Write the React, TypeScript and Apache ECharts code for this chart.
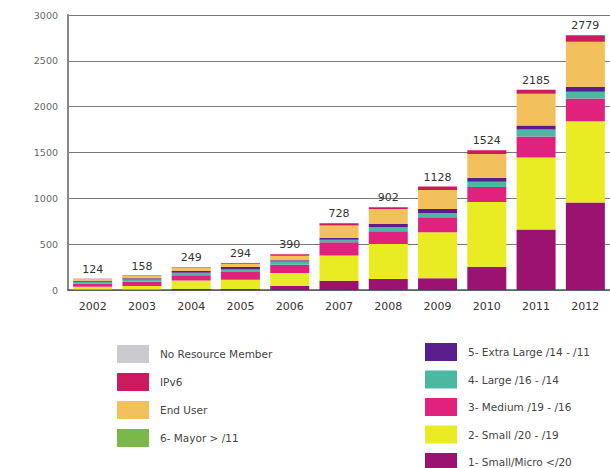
import React, { useEffect, useRef } from "react";
import * as echarts from "echarts";

const years = ["2002", "2003", "2004", "2005", "2006", "2007", "2008", "2009", "2010", "2011", "2012"];
const totals = [124, 158, 249, 294, 390, 728, 902, 1128, 1524, 2185, 2779];
const smallMicro = [5, 5, 10, 12, 45, 100, 120, 128, 255, 660, 955];
const small = [30, 40, 95, 100, 140, 276, 383, 502, 705, 785, 885];
const medium = [35, 45, 55, 85, 90, 145, 137, 163, 165, 230, 250];
const large = [20, 25, 28, 28, 35, 26, 44, 48, 55, 75, 73];
const extraLarge = [10, 12, 22, 25, 15, 22, 37, 44, 45, 45, 55];
const mayor = [0, 0, 0, 0, 0, 0, 0, 0, 0, 0, 0];
const endUser = [20, 26, 32, 36, 50, 134, 163, 207, 260, 345, 490];
const ipv6 = [4, 5, 7, 8, 15, 25, 18, 36, 39, 45, 71];
const noResource = [0, 0, 0, 0, 0, 0, 0, 0, 0, 0, 0];
const yTicks = [0, 500, 1000, 1500, 2000, 2500, 3000];

const COLORS = {
  micro: "#9c1270",
  small: "#e9ec22",
  medium: "#e0227c",
  large: "#4cb8a2",
  xl: "#5a1e8c",
  mayor: "#7ab84c",
  endUser: "#f2c15c",
  ipv6: "#cc1a5e",
  noRes: "#cbcbcf",
};

export default function App() {
  const ref = useRef<HTMLDivElement>(null);
  useEffect(() => {
    if (!ref.current) return;
    const chart = echarts.init(ref.current, null, { renderer: "svg" });
    const mk = (name: string, data: number[], color: string, extra: any = {}) => ({
      name,
      type: "bar",
      stack: "total",
      data,
      barWidth: 39,
      itemStyle: { color },
      emphasis: { disabled: true },
      ...extra,
    });
    const legendText = { color: "#444", fontSize: 10.5, fontFamily: "DejaVu Sans", padding: [0, 0, 0, 6] };
    chart.setOption({
      animation: false,
      grid: { left: 68, top: 15, width: 550, bottom: 178, containLabel: false },
      xAxis: {
        type: "category",
        data: years,
        axisLine: { lineStyle: { color: "#555", width: 1.5 } },
        axisTick: { show: false },
        axisLabel: { color: "#333", fontSize: 11, fontFamily: "DejaVu Sans", margin: 11 },
      },
      yAxis: {
        type: "value",
        min: yTicks[0],
        max: yTicks[yTicks.length - 1],
        interval: 500,
        axisLine: { show: true, lineStyle: { color: "#888", width: 2 } },
        axisTick: { show: false },
        axisLabel: {
          color: "#666",
          fontSize: 9.5,
          fontFamily: "DejaVu Sans",
          margin: 10,
          formatter: (v: number) => String(v),
        },
        splitLine: { lineStyle: { color: "#777", width: 1 } },
      },
      legend: [
        {
          orient: "vertical",
          left: 112,
          top: 340,
          height: 200,
          itemWidth: 32,
          itemHeight: 18,
          itemGap: 10,
          icon: "rect",
          textStyle: legendText,
          data: ["No Resource Member", "IPv6", "End User", "6- Mayor > /11"],
        },
        {
          orient: "vertical",
          left: 420,
          top: 338,
          height: 200,
          itemWidth: 32,
          itemHeight: 18,
          itemGap: 9.5,
          icon: "rect",
          textStyle: legendText,
          data: ["5- Extra Large /14 - /11", "4- Large /16 - /14", "3- Medium /19 - /16", "2- Small /20 - /19", "1- Small/Micro </20"],
        },
      ],
      series: [
        mk("1- Small/Micro </20", smallMicro, COLORS.micro),
        mk("2- Small /20 - /19", small, COLORS.small),
        mk("3- Medium /19 - /16", medium, COLORS.medium),
        mk("4- Large /16 - /14", large, COLORS.large),
        mk("5- Extra Large /14 - /11", extraLarge, COLORS.xl),
        mk("6- Mayor > /11", mayor, COLORS.mayor),
        mk("End User", endUser, COLORS.endUser),
        mk("IPv6", ipv6, COLORS.ipv6, {
          label: {
            show: true,
            position: "top",
            distance: 4,
            color: "#333",
            fontSize: 11,
            fontFamily: "DejaVu Sans",
            formatter: (p: any) => String(totals[p.dataIndex]),
          },
        }),
        mk("No Resource Member", noResource, COLORS.noRes),
      ],
    });
    return () => chart.dispose();
  }, []);
  return <div ref={ref} style={{ width: 610, height: 468, position: "absolute", left: 0, top: 0, background: "#fff" }} />;
}
